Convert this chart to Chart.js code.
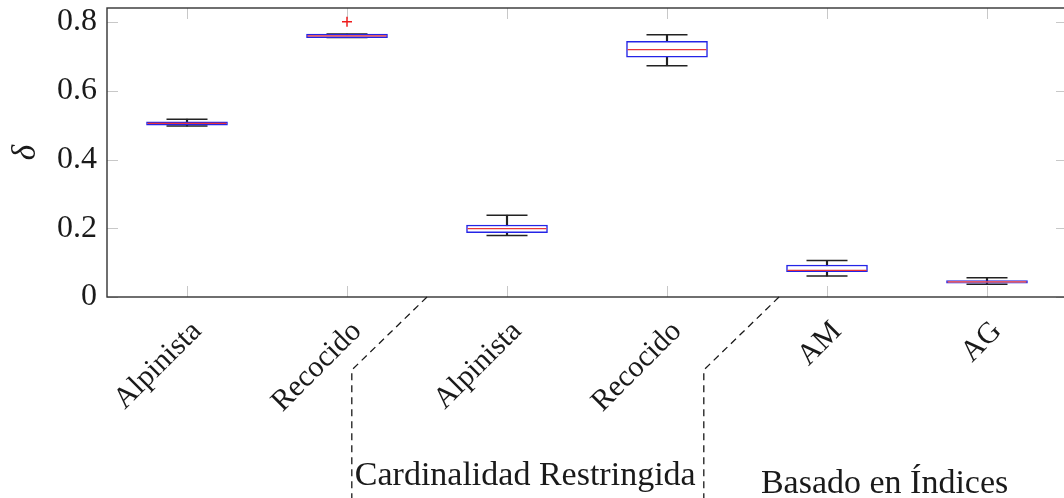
<!DOCTYPE html>
<html>
<head>
<meta charset="utf-8">
<script src="https://cdn.jsdelivr.net/npm/chart.js@4.4.1/dist/chart.umd.min.js"></script>
<style>
html, body { margin: 0; padding: 0; overflow: hidden; background: #fff; }
#deltaChart { display: block; }
</style>
</head>
<body>
<canvas id="deltaChart" width="1075" height="498"></canvas>
<script>
// Box plot summaries per method (delta)
const categories  = ['Alpinista', 'Recocido', 'Alpinista', 'Recocido', 'AM', 'AG'];
const whiskerLow  = [0.4975, 0.755, 0.179, 0.673, 0.061, 0.037];
const lowerQuart  = [0.500, 0.755, 0.1875, 0.698, 0.074, 0.040];
const medians     = [0.505, 0.760, 0.199, 0.720, 0.0775, 0.044];
const upperQuart  = [0.5095, 0.765, 0.2095, 0.744, 0.093, 0.048];
const whiskerHigh = [0.5175, 0.765, 0.238, 0.7635, 0.1065, 0.056];
const outliers    = [null, 0.801, null, null, null, null];
const yTicks      = [0, 0.2, 0.4, 0.6, 0.8];
const groupNames  = ['Cardinalidad Restringida', 'Basado en Índices'];

const serif = '"Liberation Serif", "DejaVu Serif", serif';
const ink = '#1a1a1a';

// frame, inner ticks, group separators and group names
const decorations = {
    id: 'decorations',
    beforeDatasetsDraw(chart) {
        const { ctx, chartArea: a, scales: { x, y } } = chart;
        const len = 11;
        ctx.save();
        ctx.strokeStyle = '#c8c8c8';
        ctx.lineWidth = 1;
        ctx.beginPath();
        x.ticks.forEach((t, i) => {
            const px = Math.round(x.getPixelForTick(i)) + 0.5;
            ctx.moveTo(px, a.top); ctx.lineTo(px, a.top + len);
            ctx.moveTo(px, a.bottom); ctx.lineTo(px, a.bottom - len);
        });
        y.ticks.forEach((t, i) => {
            const py = Math.round(y.getPixelForTick(i)) + 0.5;
            ctx.moveTo(a.left, py); ctx.lineTo(a.left + len, py);
            ctx.moveTo(a.right, py); ctx.lineTo(a.right - len, py);
        });
        ctx.stroke();
        ctx.restore();
    },
    afterDraw(chart) {
        const { ctx, chartArea: a, scales: { x } } = chart;
        ctx.save();
        ctx.strokeStyle = '#333';
        ctx.lineWidth = 1.4;
        ctx.strokeRect(a.left, a.top, a.right - a.left, a.bottom - a.top);

        // dashed separators between method groups
        ctx.strokeStyle = ink;
        ctx.lineWidth = 1.3;
        ctx.setLineDash([7, 5]);
        const bend = a.bottom + 73;
        [[1.5, 1.03], [3.7, 3.23]].forEach(([top, low]) => {
            ctx.beginPath();
            ctx.moveTo(x.getPixelForValue(top), a.bottom);
            ctx.lineTo(x.getPixelForValue(low), bend);
            ctx.lineTo(x.getPixelForValue(low), chart.height);
            ctx.stroke();
        });
        ctx.setLineDash([]);

        ctx.fillStyle = ink;
        ctx.font = '34px ' + serif;
        ctx.textBaseline = 'alphabetic';
        ctx.textAlign = 'left';
        ctx.fillText(groupNames[0], x.getPixelForValue(1.03) + 3, 485);
        ctx.textAlign = 'center';
        ctx.fillText(groupNames[1], x.getPixelForValue(4.36), 493);
        ctx.restore();
    }
};

const ctx = document.getElementById('deltaChart').getContext('2d');

new Chart(ctx, {
    data: {
        labels: categories,
        datasets: [
            {
                // whisker stems
                type: 'bar',
                data: categories.map((_, i) => [whiskerLow[i], whiskerHigh[i]]),
                backgroundColor: '#222',
                borderWidth: 0,
                barThickness: 1.5,
                grouped: false,
                order: 5
            },
            {
                type: 'line',
                data: whiskerHigh,
                showLine: false,
                pointStyle: 'line',
                pointRadius: 20.5,
                pointBorderColor: '#222',
                pointBorderWidth: 1.5,
                order: 4
            },
            {
                type: 'line',
                data: whiskerLow,
                showLine: false,
                pointStyle: 'line',
                pointRadius: 20.5,
                pointBorderColor: '#222',
                pointBorderWidth: 1.5,
                order: 4
            },
            {
                // interquartile boxes
                type: 'bar',
                data: categories.map((_, i) => [lowerQuart[i], upperQuart[i]]),
                backgroundColor: '#fff',
                borderColor: '#2424e6',
                borderWidth: 1.5,
                borderSkipped: false,
                barThickness: 81,
                grouped: false,
                order: 3
            },
            {
                type: 'line',
                data: medians,
                showLine: false,
                pointStyle: 'line',
                pointRadius: 39.5,
                pointBorderColor: '#e8353a',
                pointBorderWidth: 1.3,
                order: 2
            },
            {
                type: 'line',
                data: outliers,
                showLine: false,
                pointStyle: 'cross',
                pointRadius: 5,
                pointBorderColor: '#ee1c1c',
                pointBorderWidth: 1.5,
                order: 1
            }
        ]
    },
    options: {
        responsive: false,
        animation: false,
        events: [],
        layout: {
            autoPadding: false,
            padding: { top: 8, right: 8, left: 0, bottom: 0 }
        },
        plugins: {
            legend: { display: false },
            tooltip: { enabled: false }
        },
        scales: {
            x: {
                type: 'category',
                offset: true,
                grid: { display: false, drawTicks: false },
                border: { display: false },
                ticks: {
                    autoSkip: false,
                    minRotation: 45,
                    maxRotation: 45,
                    padding: 17,
                    labelOffset: 10,
                    color: ink,
                    font: { family: serif, size: 30 }
                },
                afterFit: scale => {
                    scale.height = 201;
                    scale.paddingLeft = 0;
                    scale.paddingRight = 0;
                }
            },
            y: {
                min: 0,
                max: 0.841,
                grid: { display: false, drawTicks: false },
                border: { display: false },
                afterBuildTicks: scale => {
                    scale.ticks = yTicks.map(v => ({ value: v }));
                },
                ticks: {
                    padding: 10,
                    color: ink,
                    font: { family: serif, size: 32 },
                    callback: v => v.toString()
                },
                title: {
                    display: true,
                    text: 'δ',
                    color: ink,
                    padding: { top: 7, bottom: 0 },
                    font: { family: serif, size: 33, style: 'italic' }
                },
                afterFit: scale => {
                    scale.width = 107;
                    scale.paddingTop = 0;
                    scale.paddingBottom = 0;
                }
            }
        }
    },
    plugins: [decorations]
});
</script>
</body>
</html>
